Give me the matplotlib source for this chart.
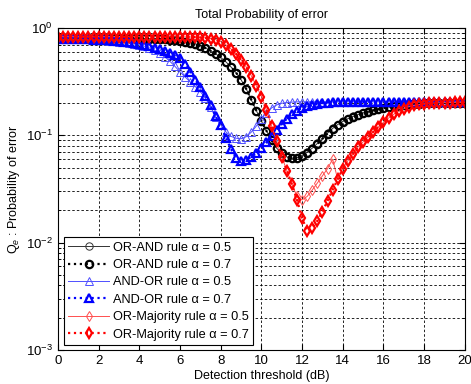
import numpy as np
import matplotlib
matplotlib.use("Agg")
import matplotlib.pyplot as plt
from matplotlib.ticker import LogLocator, NullFormatter

plt.rcParams['font.family'] = ['Liberation Sans', 'DejaVu Sans']
plt.rcParams['mathtext.fontset'] = 'custom'
plt.rcParams['mathtext.rm'] = 'Liberation Sans'
plt.rcParams['mathtext.it'] = 'Liberation Sans:italic'

# Detection threshold grid (dB)
threshold_db = np.arange(0, 20.001, 0.25)

or_and_05 = [
    0.80, 0.80, 0.80, 0.80, 0.80,
    0.80, 0.80, 0.80, 0.80,
    0.80, 0.80, 0.80, 0.80,
    0.80, 0.80, 0.799, 0.798,
    0.797, 0.795, 0.792, 0.789,
    0.784, 0.778, 0.770, 0.760,
    0.748, 0.733, 0.712, 0.685,
    0.652, 0.615, 0.575, 0.532,
    0.485, 0.435, 0.385, 0.330,
    0.272, 0.215, 0.170, 0.136,
    0.110, 0.090, 0.076, 0.068,
    0.063, 0.061, 0.062, 0.065,
    0.070, 0.076, 0.084, 0.094,
    0.105, 0.116, 0.126, 0.135,
    0.143, 0.150, 0.156, 0.162,
    0.167, 0.172, 0.176, 0.180,
    0.184, 0.187, 0.190, 0.193,
    0.195, 0.197, 0.198, 0.199,
    0.200, 0.200, 0.200, 0.201,
    0.201, 0.201, 0.201, 0.201,
]

or_and_07 = [
    0.80, 0.80, 0.80, 0.80, 0.80,
    0.80, 0.80, 0.80, 0.80,
    0.80, 0.80, 0.80, 0.80,
    0.80, 0.80, 0.799, 0.798,
    0.797, 0.795, 0.792, 0.789,
    0.784, 0.778, 0.770, 0.760,
    0.748, 0.733, 0.712, 0.685,
    0.652, 0.615, 0.575, 0.532,
    0.485, 0.435, 0.385, 0.330,
    0.272, 0.215, 0.170, 0.136,
    0.110, 0.090, 0.076, 0.068,
    0.063, 0.061, 0.061, 0.064,
    0.069, 0.075, 0.083, 0.093,
    0.104, 0.115, 0.125, 0.134,
    0.142, 0.149, 0.155, 0.161,
    0.166, 0.171, 0.175, 0.179,
    0.183, 0.186, 0.189, 0.192,
    0.194, 0.196, 0.198, 0.199,
    0.200, 0.200, 0.200, 0.201,
    0.201, 0.201, 0.201, 0.201,
]

and_or_05 = [
    0.79, 0.79, 0.79, 0.788, 0.787,
    0.785, 0.782, 0.779, 0.775,
    0.770, 0.764, 0.757, 0.749,
    0.739, 0.727, 0.713, 0.697,
    0.677, 0.652, 0.622, 0.588,
    0.540, 0.490, 0.440, 0.390,
    0.350, 0.315, 0.285, 0.255,
    0.222, 0.185, 0.148, 0.125,
    0.108, 0.098, 0.094, 0.093,
    0.097, 0.107, 0.122, 0.142,
    0.163, 0.180, 0.192, 0.199,
    0.202, 0.204, 0.205, 0.205,
    0.205, 0.205, 0.205, 0.205,
    0.205, 0.205, 0.205, 0.205,
    0.205, 0.205, 0.205, 0.205,
    0.205, 0.205, 0.205, 0.205,
    0.205, 0.205, 0.205, 0.205,
    0.205, 0.205, 0.205, 0.205,
    0.205, 0.205, 0.205, 0.205,
    0.205, 0.205, 0.205, 0.205,
]

and_or_07 = [
    0.79, 0.79, 0.79, 0.789, 0.788,
    0.786, 0.784, 0.781, 0.778,
    0.774, 0.769, 0.763, 0.756,
    0.747, 0.737, 0.725, 0.711,
    0.695, 0.676, 0.655, 0.632,
    0.608, 0.582, 0.555, 0.525,
    0.460, 0.390, 0.330, 0.280,
    0.235, 0.190, 0.150, 0.125,
    0.095, 0.075, 0.062, 0.058,
    0.059, 0.063, 0.068, 0.076,
    0.086, 0.098, 0.112, 0.127,
    0.143, 0.158, 0.170, 0.180,
    0.187, 0.193, 0.197, 0.200,
    0.202, 0.203, 0.204, 0.205,
    0.205, 0.205, 0.205, 0.205,
    0.205, 0.205, 0.205, 0.205,
    0.205, 0.205, 0.205, 0.205,
    0.205, 0.205, 0.205, 0.205,
    0.205, 0.205, 0.205, 0.205,
    0.205, 0.205, 0.205, 0.205,
]

or_maj_07 = [
    0.83, 0.83, 0.83, 0.83, 0.83,
    0.83, 0.83, 0.83, 0.83,
    0.83, 0.83, 0.83, 0.83,
    0.83, 0.83, 0.83, 0.83,
    0.83, 0.83, 0.83, 0.83,
    0.83, 0.83, 0.829, 0.828,
    0.827, 0.825, 0.822, 0.818,
    0.810, 0.798, 0.780, 0.748,
    0.700, 0.640, 0.575, 0.505,
    0.435, 0.360, 0.290, 0.230,
    0.172, 0.122, 0.088, 0.063,
    0.047, 0.035, 0.025, 0.017,
    0.0128, 0.0138, 0.016, 0.0195,
    0.0245, 0.031, 0.039, 0.049,
    0.058, 0.067, 0.078, 0.087,
    0.097, 0.108, 0.120, 0.132,
    0.145, 0.157, 0.168, 0.177,
    0.185, 0.190, 0.194, 0.197,
    0.199, 0.200, 0.201, 0.202,
    0.202, 0.203, 0.203, 0.203,
]

or_maj_05 = [
    0.83, 0.83, 0.83, 0.83, 0.83,
    0.83, 0.83, 0.83, 0.83,
    0.83, 0.83, 0.83, 0.83,
    0.83, 0.83, 0.83, 0.83,
    0.83, 0.83, 0.83, 0.83,
    0.83, 0.83, 0.829, 0.828,
    0.827, 0.825, 0.822, 0.818,
    0.810, 0.798, 0.780, 0.748,
    0.700, 0.640, 0.575, 0.505,
    0.435, 0.360, 0.290, 0.230,
    0.172, 0.122, 0.088, 0.063,
    0.047, 0.035, 0.027, 0.025,
    0.027, 0.031, 0.036, 0.042,
    0.049, 0.060, 0.039, 0.049,
    0.058, 0.067, 0.078, 0.087,
    0.097, 0.108, 0.120, 0.132,
    0.145, 0.157, 0.168, 0.177,
    0.185, 0.190, 0.194, 0.197,
    0.199, 0.200, 0.201, 0.202,
    0.202, 0.203, 0.203, 0.203,
]

labels = [
    "OR-AND rule \u03b1 = 0.5",
    "OR-AND rule \u03b1 = 0.7",
    "AND-OR rule \u03b1 = 0.5",
    "AND-OR rule \u03b1 = 0.7",
    "OR-Majority rule \u03b1 = 0.5",
    "OR-Majority rule \u03b1 = 0.7",
]

fig = plt.figure(figsize=(4.71, 3.84), dpi=100)
ax = fig.add_axes([0.123, 0.0885, 0.864, 0.8385])

ms = 5.3
thin = dict(linestyle='-', linewidth=0.7, markersize=ms, markeredgewidth=0.7,
            markerfacecolor='none')
bold = dict(linestyle=':', linewidth=1.6, markersize=ms, markeredgewidth=1.6,
            markerfacecolor='none')

ax.semilogy(threshold_db, or_and_05, marker='o', color='#333333', label=labels[0], **thin)
ax.semilogy(threshold_db, or_and_07, marker='o', color='black', label=labels[1], **bold)
ax.semilogy(threshold_db, and_or_05, marker='^', color='#4f4fff', label=labels[2], **thin)
ax.semilogy(threshold_db, and_or_07, marker='^', color='#0000ff', label=labels[3], **bold)
ax.semilogy(threshold_db, or_maj_05, marker='d', color='#ff4f4f', label=labels[4], **thin)
ax.semilogy(threshold_db, or_maj_07, marker='d', color='#ff0000', label=labels[5], **bold)

ax.set_xlim(0, 20)
ax.set_ylim(1e-3, 1)
ax.set_xticks(range(0, 21, 2))
ax.yaxis.set_major_locator(LogLocator(base=10, numticks=10))
ax.yaxis.set_minor_locator(LogLocator(base=10, subs=np.arange(2, 10), numticks=20))
ax.yaxis.set_minor_formatter(NullFormatter())

grid_style = dict(color='black', linestyle=(0, (3, 2.5)), linewidth=0.6)
ax.grid(True, which='major', axis='both', **grid_style)
ax.grid(True, which='minor', axis='y', **grid_style)

ax.tick_params(which='both', direction='in', top=True, right=True, labelsize=9.5, colors='black')
ax.tick_params(which='major', length=4)
ax.tick_params(which='minor', length=2)
for s in ax.spines.values():
    s.set_linewidth(0.8)

ax.set_title("Total Probability of error", fontsize=9, pad=7)
ax.set_xlabel("Detection threshold (dB)", fontsize=9, labelpad=2)
ax.set_ylabel("Q$_e$ : Probability of error", fontsize=9, labelpad=3)

leg = ax.legend(loc='lower left', bbox_to_anchor=(0.0147, 0.0155), borderaxespad=0,
                fontsize=9.2, handlelength=3.2, handletextpad=0.3, labelspacing=0.42,
                borderpad=0.35, fancybox=False, framealpha=1, edgecolor='black',
                numpoints=1)
leg.get_frame().set_linewidth(0.8)

fig.savefig("out.png", dpi=100)
